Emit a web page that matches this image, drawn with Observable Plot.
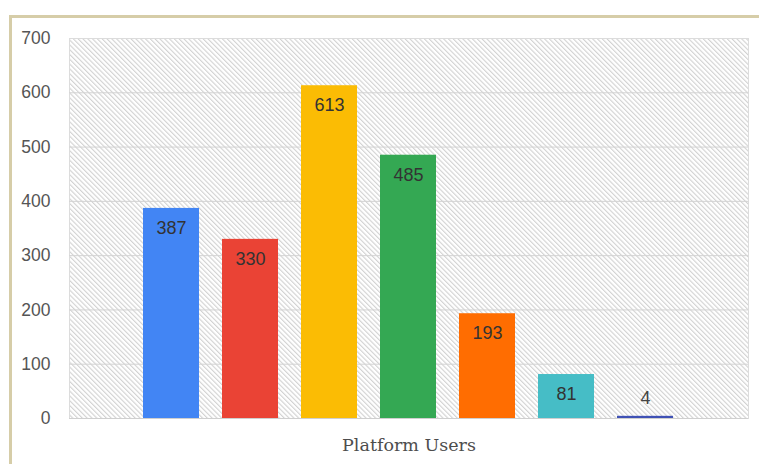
<!DOCTYPE html>
<html>
<head>
<meta charset="utf-8">
<script src="https://cdn.jsdelivr.net/npm/d3@7"></script>
<script src="https://cdn.jsdelivr.net/npm/@observablehq/plot@0.6"></script>
<style>
  html, body { margin: 0; padding: 0; background: #fff; }
  #wrap { position: relative; width: 759px; height: 464px; overflow: hidden; }
  #border { position: absolute; left: 9px; top: 15px; width: 760px; height: 460px;
            border-top: 3px solid #d6cda8; border-left: 3px solid #d6cda8; box-sizing: border-box; pointer-events: none; }
  #chart { position: absolute; left: 0; top: 0; }
</style>
</head>
<body>
<div id="wrap"><div id="chart"></div><div id="border"></div></div>
<script>
const categories = ["P1", "P2", "P3", "P4", "P5", "P6", "P7"];
const values = [387, 330, 613, 485, 193, 81, 4];
const colors = ["#4285f4", "#ea4335", "#fbbc04", "#34a853", "#ff6d01", "#46bdc6", "#3f51b5"];
const yTicks = [0, 100, 200, 300, 400, 500, 600, 700];
const axisLabel = "Platform Users";

const data = categories.map((c, i) => ({category: c, value: values[i], color: colors[i]}));

const chart = Plot.plot({
  width: 759,
  height: 464,
  marginLeft: 69,
  marginRight: 11,
  marginTop: 38,
  marginBottom: 46,
  style: {fontFamily: "Liberation Sans, Arial, sans-serif", fontSize: "17.5px", color: "#555", background: "#fff"},
  x: {type: "band", domain: categories, paddingInner: 0.29, paddingOuter: 0.92, axis: null},
  y: {domain: [0, 700], ticks: yTicks, tickSize: 0, tickPadding: 19, label: null, tickFormat: d => String(d)},
  color: {type: "identity"},
  marks: [
    Plot.frame({fill: "url(#hatch)", stroke: "#dcdcdc"}),
    Plot.ruleY(yTicks.filter(d => d > 0 && d < 700), {stroke: "#d3d3d3", strokeWidth: 1}),
    Plot.ruleY([0], {stroke: "#cfcfcf", strokeWidth: 1}),
    Plot.barY(data, {x: "category", y: "value", fill: "color"}),
    Plot.text(data.filter(d => d.value >= 50), {x: "category", y: "value", text: d => String(d.value), dy: 20, fill: "#333", fontSize: 18}),
    Plot.text(data.filter(d => d.value < 50), {x: "category", y: "value", text: d => String(d.value), dy: -18, fill: "#444", fontSize: 18}),
    Plot.text([axisLabel], {frameAnchor: "bottom", dy: 32, text: d => d, fontFamily: "DejaVu Serif, Liberation Serif, serif", fontSize: 17.5, fill: "#4d4d4d"})
  ]
});

// hatch pattern for the plotting area background
const ns = "http://www.w3.org/2000/svg";
const svg = chart.tagName.toLowerCase() === "svg" ? chart : chart.querySelector("svg");
const defs = document.createElementNS(ns, "defs");
const pat = document.createElementNS(ns, "pattern");
pat.setAttribute("id", "hatch");
pat.setAttribute("patternUnits", "userSpaceOnUse");
pat.setAttribute("width", "3.4");
pat.setAttribute("height", "3.4");
pat.setAttribute("patternTransform", "rotate(-45)");
const bg = document.createElementNS(ns, "rect");
bg.setAttribute("width", "3.4"); bg.setAttribute("height", "3.4"); bg.setAttribute("fill", "#ffffff");
const ln = document.createElementNS(ns, "line");
ln.setAttribute("x1", "0.6"); ln.setAttribute("y1", "0"); ln.setAttribute("x2", "0.6"); ln.setAttribute("y2", "3.4");
ln.setAttribute("stroke", "#cccccc"); ln.setAttribute("stroke-width", "1");
pat.appendChild(bg); pat.appendChild(ln); defs.appendChild(pat);
svg.insertBefore(defs, svg.firstChild);

document.getElementById("chart").appendChild(chart);
</script>
</body>
</html>
